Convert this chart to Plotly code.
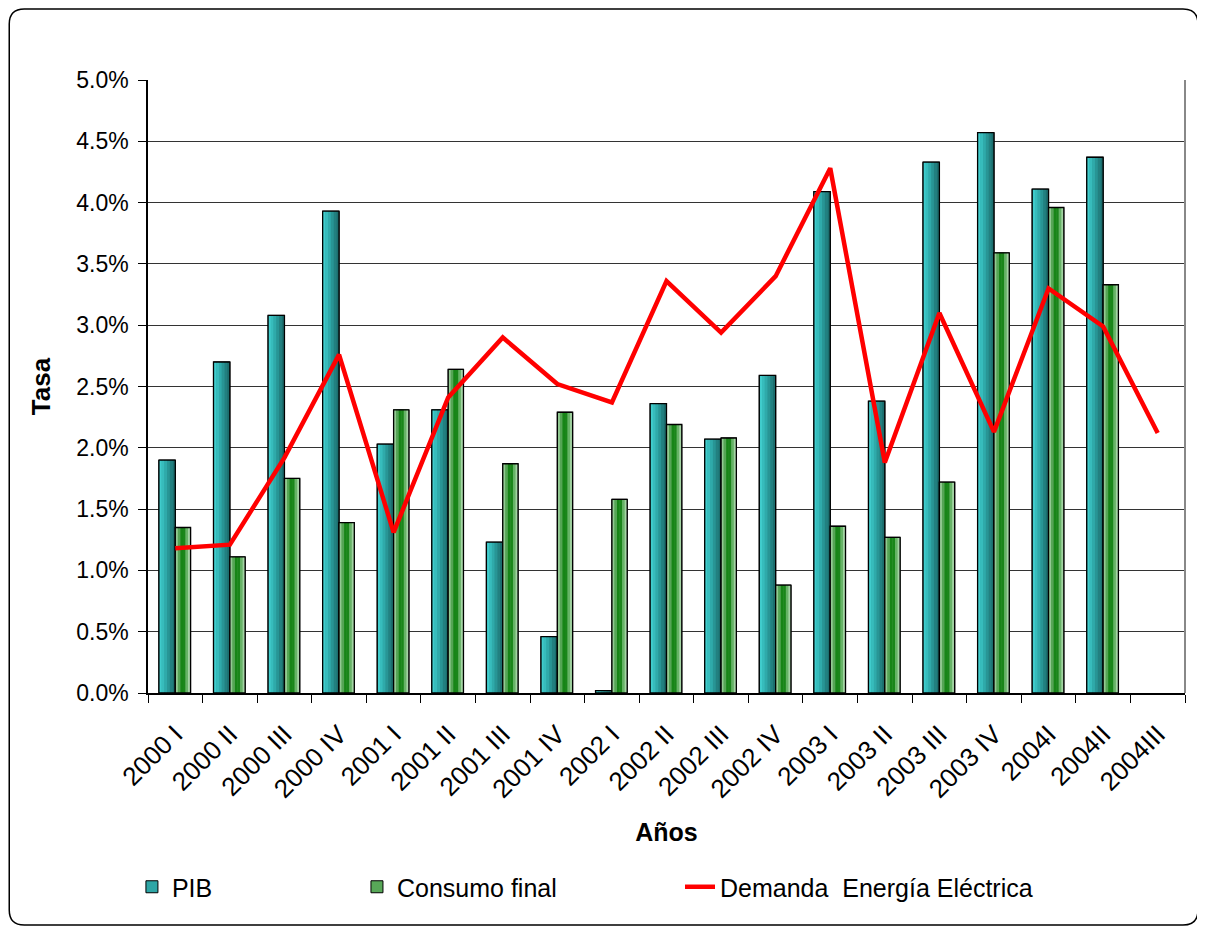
import plotly.graph_objects as go

categorias = ["2000 I", "2000 II", "2000 III", "2000 IV",
              "2001 I", "2001 II", "2001 III", "2001 IV",
              "2002 I", "2002 II", "2002 III", "2002 IV",
              "2003 I", "2003 II", "2003 III", "2003 IV",
              "2004I", "2004II", "2004III"]
pib = [1.90, 2.70, 3.08, 3.93, 2.03, 2.31, 1.23, 0.46, 0.02, 2.36,
       2.07, 2.59, 4.09, 2.38, 4.33, 4.57, 4.11, 4.37, None]
consumo = [1.35, 1.11, 1.75, 1.39, 2.31, 2.64, 1.87, 2.29, 1.58, 2.19,
           2.08, 0.88, 1.36, 1.27, 1.72, 3.59, 3.96, 3.33, None]
demanda = [1.18, 1.21, 1.92, 2.76, 1.31, 2.41, 2.90, 2.52, 2.37, 3.36,
           2.94, 3.40, 4.28, 1.88, 3.10, 2.13, 3.30, 2.99, 2.12]

FONT = "Liberation Sans, Arial, sans-serif"

fig = go.Figure()


def add_bar_series(name, values, offset, width, base_color, stripes, legend):
    fig.add_trace(go.Bar(
        x=categorias, y=values, name=name, offset=offset, width=width,
        marker=dict(color=base_color, line=dict(color="black", width=1)),
        legend=legend, hoverinfo="skip"))
    n = len(stripes)
    sw = width / n
    for i, c in enumerate(stripes):
        fig.add_trace(go.Bar(
            x=categorias, y=values, offset=offset + i * sw, width=sw * 1.05,
            marker=dict(color=c, line=dict(width=0)),
            showlegend=False, hoverinfo="skip"))
    fig.add_trace(go.Bar(
        x=categorias, y=values, offset=offset, width=width,
        marker=dict(color="rgba(0,0,0,0)", line=dict(color="black", width=1.3)),
        showlegend=False, hoverinfo="skip"))


add_bar_series("PIB", pib, -0.30, 0.30, "#2ea6a6",
               ["#40cccc", "#37bcbc", "#2faaaa", "#289595", "#228080", "#1c6e6e"],
               "legend")
add_bar_series("Consumo final", consumo, 0.0, 0.28, "#58a858",
               ["#92c992", "#55a555", "#178517", "#1a861a", "#66b366", "#a3d4a3"],
               "legend2")

fig.add_trace(go.Scatter(
    x=categorias, y=demanda, mode="lines", name="Demanda  Energía Eléctrica",
    line=dict(color="#ff0000", width=4.5), legend="legend3", hoverinfo="skip"))

# chart outer rounded border (paper coords)
x0, x1, y0, y1 = -0.1338, 1.0125, -0.3785, 1.1158
rx, ry = 0.0145, 0.0245
path = (f"M {x0+rx},{y1} L {x1-rx},{y1} Q {x1},{y1} {x1},{y1-ry} "
        f"L {x1},{y0+ry} Q {x1},{y0} {x1-rx},{y0} L {x0+rx},{y0} "
        f"Q {x0},{y0} {x0},{y0+ry} L {x0},{y1-ry} Q {x0},{y1} {x0+rx},{y1} Z")

legend_common = dict(orientation="h", yref="paper", y=-0.3165, yanchor="middle",
                     xanchor="left", font=dict(family=FONT, size=25, color="black"),
                     bgcolor="rgba(0,0,0,0)")

fig.update_layout(
    width=1197, height=920,
    margin=dict(l=140, r=20, t=72, b=235),
    paper_bgcolor="white", plot_bgcolor="white",
    barmode="overlay",
    font=dict(family=FONT, size=22, color="black"),
    shapes=[
        dict(type="path", xref="paper", yref="paper", path=path,
             line=dict(color="black", width=1.5), layer="below"),
        dict(type="line", xref="paper", yref="paper", x0=1, x1=1, y0=0, y1=1,
             line=dict(color="#888888", width=2)),
    ],
    xaxis=dict(
        type="category", range=[-0.5, 18.5], tickangle=-45,
        tickson="boundaries", ticks="outside", ticklen=8, tickcolor="black",
        showline=True, linecolor="black", linewidth=1.5, showgrid=False,
        tickfont=dict(family=FONT, size=26, color="black"),
        ticklabelstandoff=14,
        title=dict(text="<b>Años</b>", font=dict(family=FONT, size=25, color="black"),
                   standoff=21),
    ),
    yaxis=dict(
        range=[0, 5.0], dtick=0.5, tickformat=".1f", ticksuffix="%",
        ticks="outside", ticklen=8, tickcolor="black",
        showline=True, linecolor="black", linewidth=1.5,
        showgrid=True, gridcolor="#333333", gridwidth=1, zeroline=False,
        tickfont=dict(family=FONT, size=23, color="black"),
        ticklabelstandoff=5,
        title=dict(text="<b>Tasa</b>", font=dict(family=FONT, size=26, color="black"),
                   standoff=18),
    ),
    legend=dict(x=-0.0155, **legend_common),
    legend2=dict(x=0.2015, **legend_common),
    legend3=dict(x=0.513, **legend_common),
)

fig.write_html("out.html")
